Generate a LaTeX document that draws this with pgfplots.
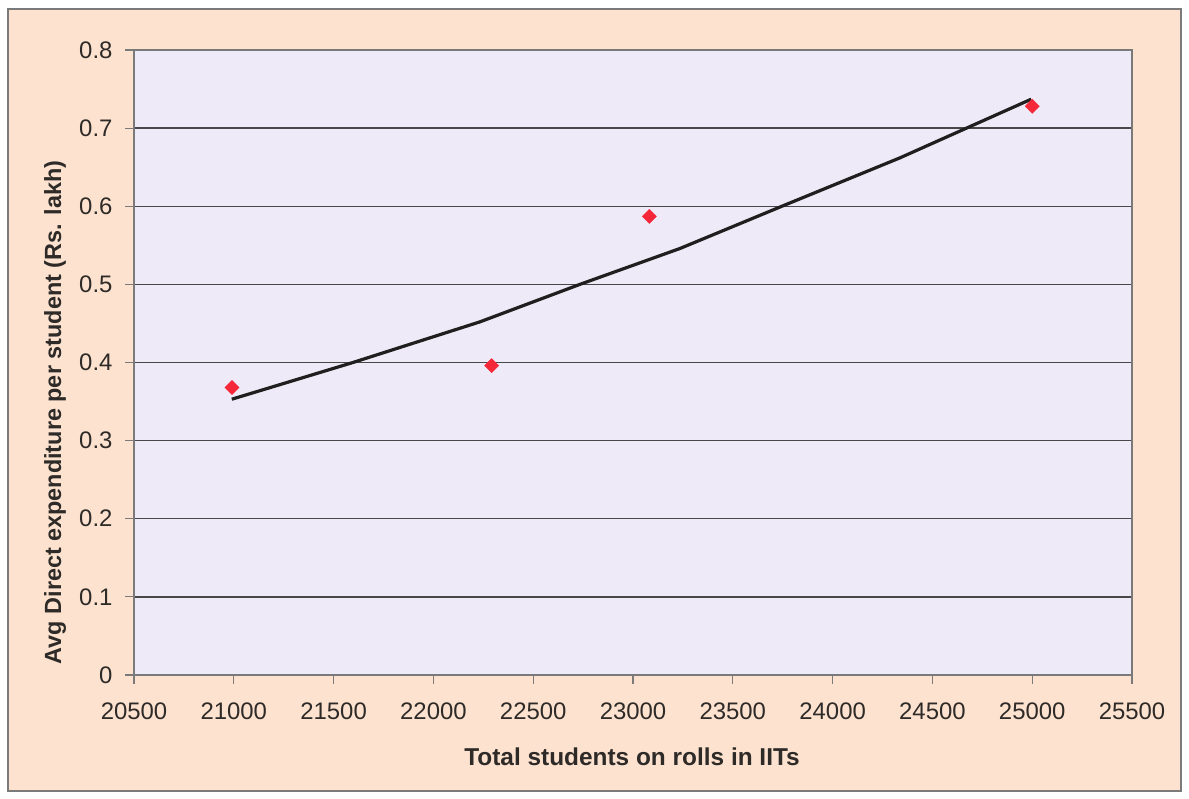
\documentclass[border=0pt]{standalone}
\usepackage{pgfplots}
\pgfplotsset{compat=1.18}
\usepackage{fontspec}
\setmainfont{Liberation Sans}
\definecolor{peach}{HTML}{FDE3CF}
\definecolor{lav}{HTML}{EFEAF7}
\definecolor{gridc}{HTML}{484848}
\definecolor{framec}{HTML}{7A7A7A}
\definecolor{mred}{HTML}{F5283A}
\definecolor{txt}{HTML}{2E2A28}
\begin{document}
\begin{tikzpicture}[x=1bp,y=1bp]
\fill[white] (0,0) rectangle (1189,799);
\filldraw[fill=peach, draw=framec, line width=1.2bp] (8,8) rectangle (1181,790);
\begin{axis}[
  at={(134bp,124bp)}, anchor=south west,
  scale only axis, width=998bp, height=625bp,
  xmin=20500, xmax=25500, ymin=0, ymax=0.8,
  xtick={20500,21000,...,25500},
  ytick={0,0.1,...,0.8},
  scaled x ticks=false, scaled y ticks=false,
  axis background/.style={fill=lav},
  axis line style={draw=framec, line width=1.2bp},
  ymajorgrids, grid style={gridc, line width=1.4bp},
  tick align=outside, tick pos=left,
  major tick length=9bp,
  tick style={framec, line width=1.1bp},
  ticklabel style={font=\fontsize{24}{28}\selectfont, text=txt},
  xticklabel style={yshift=-15bp, /pgf/number format/.cd, assume math mode=true, 1000 sep={}, fixed, precision=0},
  yticklabel style={xshift=-9bp, /pgf/number format/.cd, assume math mode=true, fixed, precision=1},
  xlabel={Total students on rolls in IITs},
  ylabel={Avg Direct expenditure per student (Rs. lakh)},
  label style={text=txt},
  xlabel style={font=\bfseries\fontsize{24.5}{28}\selectfont, at={(axis description cs:0.499,-0.131)}, anchor=center},
  ylabel style={font=\bfseries\fontsize{23.5}{28}\selectfont, at={(axis description cs:-0.079,0.420)}, anchor=center},
  clip=false,
]
\addplot[draw=black!88, line width=3.2bp, line join=round] coordinates {
  (20990,0.353) (21597,0.400) (22233,0.452) (22734,0.500)
  (23236,0.546) (23746,0.600) (24338,0.662) (24995,0.737)
};
\addplot[only marks, mark=square*, mark size=5bp,
  mark options={rotate=45, fill=mred, draw=mred}] coordinates {
  (20991,0.368) (22292,0.396) (23082,0.587) (25000,0.728)
};
\end{axis}
\end{tikzpicture}
\end{document}
